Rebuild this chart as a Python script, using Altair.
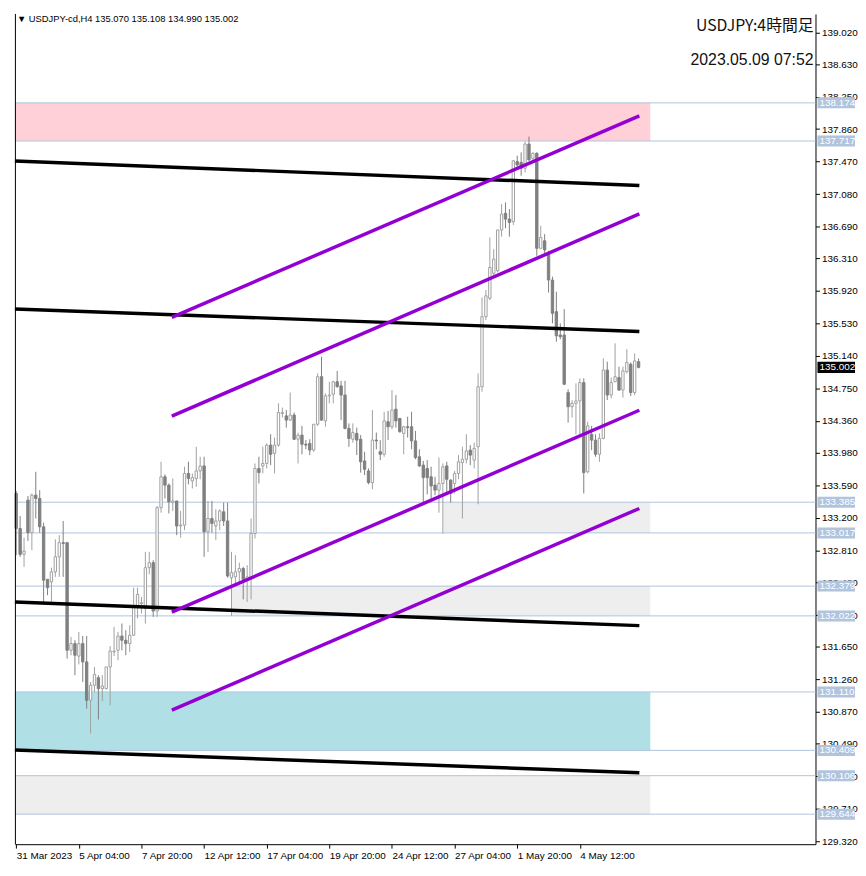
import json
import altair as alt
import pandas as pd

# ---------------- data ----------------
opens = [133.49, 133.07, 132.76, 133.41, 133.02, 133.47, 133.43, 133.09, 132.46, 132.43,
         132.55, 132.73, 132.90, 132.90, 131.61, 131.69, 131.54, 131.69, 131.47, 131.01,
         131.19, 131.28, 131.15, 131.15, 131.41, 131.59, 131.61, 131.78, 131.73, 131.69,
         131.79, 132.13, 132.17, 132.11, 132.60, 132.66, 132.08, 133.32, 133.69, 133.59,
         133.38, 133.40, 133.10, 133.11, 133.73, 133.64, 133.67, 133.76, 133.82, 133.03,
         133.19, 133.10, 133.16, 133.27, 133.16, 132.48, 132.49, 132.55, 132.59, 132.46,
         132.49, 133.01, 133.79, 133.82, 133.85, 134.07, 133.97, 134.07, 134.45, 134.42,
         134.37, 134.43, 134.14, 134.19, 134.08, 134.09, 134.01, 134.32, 134.89, 134.36,
         134.66, 134.68, 134.83, 134.78, 134.67, 134.27, 134.14, 134.21, 134.14, 133.88,
         133.76, 133.62, 134.13, 133.99, 133.96, 134.35, 134.29, 134.50, 134.39, 134.21,
         134.29, 134.29, 134.12, 133.93, 133.83, 133.79, 133.69, 133.59, 133.53, 133.61,
         133.82, 133.65, 133.61, 133.73, 133.86, 133.90, 134.01, 133.89, 134.05, 134.77,
         135.61, 135.83, 136.13, 136.16, 136.65, 136.85, 136.78, 136.75, 137.47, 137.46,
         137.39, 137.68, 137.51, 137.57, 136.43, 136.52, 136.36, 136.05, 135.67, 135.39,
         135.39, 134.70, 134.53, 134.57, 134.60, 134.82, 133.75, 134.20, 134.13, 133.96,
         134.15, 134.97, 134.67, 134.83, 134.88, 134.73, 134.95, 135.04, 134.70, 135.070]
highs = [133.52, 133.22, 132.96, 133.46, 133.49, 133.75, 133.53, 133.14, 132.46, 132.60,
         132.94, 132.99, 133.16, 132.91, 131.77, 131.73, 131.83, 131.78, 131.78, 131.23,
         131.41, 131.31, 131.31, 131.41, 131.66, 131.89, 131.83, 131.93, 131.85, 131.91,
         132.36, 132.36, 132.25, 132.79, 132.79, 132.69, 133.34, 133.87, 133.72, 133.61,
         133.67, 133.40, 133.28, 133.81, 133.87, 133.73, 134.05, 133.93, 133.93, 133.40,
         133.40, 133.30, 133.30, 133.38, 133.38, 132.79, 132.75, 132.66, 132.61, 132.63,
         133.19, 133.85, 133.93, 134.05, 134.09, 134.20, 134.16, 134.57, 134.52, 134.49,
         134.70, 134.46, 134.22, 134.30, 134.13, 134.14, 134.32, 134.93, 135.13, 134.69,
         134.83, 134.84, 134.96, 134.84, 134.84, 134.33, 134.33, 134.28, 134.19, 133.99,
         133.79, 134.49, 134.22, 134.13, 134.47, 134.48, 134.73, 134.67, 134.39, 134.30,
         134.41, 134.47, 134.24, 134.02, 133.88, 133.89, 133.81, 133.69, 133.92, 133.85,
         133.87, 133.66, 133.76, 133.95, 134.05, 134.20, 134.07, 134.10, 134.93, 135.84,
         135.93, 136.56, 136.42, 136.65, 136.96, 136.98, 136.90, 137.48, 137.54, 137.58,
         137.71, 137.77, 137.58, 137.58, 136.70, 136.60, 136.40, 136.09, 135.91, 135.53,
         135.70, 134.74, 134.61, 134.81, 134.87, 134.87, 134.35, 134.30, 134.20, 134.21,
         135.11, 135.07, 134.88, 135.29, 135.01, 135.01, 135.22, 135.06, 135.17, 135.108]
lows = [132.75, 132.73, 132.61, 132.92, 132.81, 133.19, 133.02, 132.19, 132.27, 132.19,
        132.49, 132.49, 132.49, 131.51, 131.55, 131.31, 131.44, 131.23, 130.91, 130.61,
        131.11, 130.78, 131.00, 131.14, 130.95, 131.54, 131.49, 131.61, 131.55, 131.59,
        131.78, 131.99, 132.05, 131.93, 132.52, 132.01, 132.01, 133.26, 133.43, 133.25,
        133.28, 132.99, 132.96, 133.05, 133.60, 133.55, 133.57, 133.66, 132.73, 132.79,
        133.02, 132.93, 133.05, 133.10, 132.48, 132.02, 132.38, 132.40, 132.22, 132.19,
        132.22, 132.95, 133.61, 133.73, 133.79, 133.83, 133.73, 134.05, 134.40, 134.28,
        134.36, 134.13, 133.85, 133.96, 134.02, 133.95, 133.99, 134.30, 134.36, 134.29,
        134.57, 134.57, 134.76, 134.37, 134.26, 134.05, 134.10, 133.95, 133.74, 133.71,
        133.60, 133.54, 134.02, 133.89, 133.93, 134.13, 134.26, 134.28, 134.22, 133.96,
        134.16, 134.02, 133.90, 133.81, 133.36, 133.48, 133.40, 133.47, 133.26, 133.01,
        133.49, 133.38, 133.49, 133.66, 133.19, 133.85, 133.83, 133.79, 133.36, 134.71,
        135.57, 135.81, 136.08, 136.14, 136.57, 136.67, 136.57, 136.71, 137.37, 137.30,
        137.34, 137.48, 137.49, 136.34, 136.42, 136.37, 135.90, 135.53, 135.31, 135.34,
        134.79, 134.34, 134.40, 134.20, 134.20, 133.49, 133.73, 134.01, 133.93, 133.87,
        134.14, 134.61, 134.63, 134.83, 134.72, 134.64, 134.93, 134.66, 134.67, 134.990]
closes = [133.07, 132.76, 132.80, 133.02, 133.47, 133.43, 133.09, 132.45, 132.36, 132.55,
          132.73, 132.90, 132.89, 131.61, 131.69, 131.55, 131.69, 131.47, 131.01, 131.19,
          131.32, 131.15, 131.18, 131.41, 131.60, 131.60, 131.78, 131.73, 131.69, 131.79,
          132.13, 132.28, 132.18, 132.60, 132.66, 132.08, 133.32, 133.69, 133.59, 133.39,
          133.40, 133.10, 133.11, 133.73, 133.67, 133.68, 133.76, 133.82, 133.03, 133.19,
          133.13, 133.16, 133.28, 133.16, 132.50, 132.54, 132.55, 132.59, 132.46, 132.49,
          133.01, 133.79, 133.74, 133.85, 134.07, 133.96, 134.07, 134.46, 134.46, 134.37,
          134.43, 134.14, 134.19, 134.08, 134.07, 134.01, 134.32, 134.89, 134.37, 134.66,
          134.67, 134.83, 134.77, 134.67, 134.27, 134.15, 134.22, 134.13, 133.87, 133.78,
          133.62, 134.13, 134.12, 133.96, 134.36, 134.29, 134.49, 134.36, 134.23, 134.29,
          134.28, 134.12, 133.92, 133.82, 133.68, 133.68, 133.58, 133.53, 133.61, 133.81,
          133.66, 133.49, 133.73, 133.87, 133.90, 134.00, 133.95, 134.03, 134.77, 135.61,
          135.86, 136.20, 136.30, 136.65, 136.84, 136.78, 136.74, 137.48, 137.43, 137.39,
          137.68, 137.49, 137.57, 136.43, 136.56, 136.41, 136.05, 135.65, 135.38, 135.37,
          134.80, 134.53, 134.57, 134.60, 134.82, 133.74, 134.30, 134.13, 133.96, 134.15,
          134.97, 134.67, 134.82, 134.89, 134.73, 134.96, 135.06, 134.70, 135.08, 135.002]

x_tick_index = [0, 16, 32, 48, 64, 80, 96, 112, 128, 144]
x_tick_labels = ["31 Mar 2023", "5 Apr 04:00", "7 Apr 20:00", "12 Apr 12:00", "17 Apr 04:00",
                 "19 Apr 20:00", "24 Apr 12:00", "27 Apr 04:00", "1 May 20:00", "4 May 12:00"]
y_ticks = [139.020, 138.630, 138.250, 137.860, 137.470, 137.080, 136.690, 136.310, 135.920,
           135.530, 135.140, 134.750, 134.360, 133.980, 133.590, 133.200, 132.810, 132.420,
           132.030, 131.650, 131.260, 130.870, 130.490, 130.100, 129.710, 129.320]

levels = [138.174, 137.717, 133.385, 133.017, 132.379, 132.022, 131.110, 130.409, 130.106, 129.644]

zone_start = [-0.33, 109.2, 54.9, -0.33, -0.33]
zone_end = [162.0, 162.0, 162.0, 162.0, 162.0]
zone_low = [137.717, 133.017, 132.022, 130.409, 129.644]
zone_high = [138.174, 133.385, 132.379, 131.110, 130.106]
zone_kind = ["resistance", "range", "range", "demand", "range"]

black_x0 = [-0.33, -0.33, -0.33, -0.33]
black_x1 = [159.2, 159.2, 159.2, 159.2]
black_p0 = [137.477, 135.702, 132.188, 130.413]
black_p1 = [137.183, 135.432, 131.905, 130.142]

purple_x0 = [39.75, 39.75, 39.75, 39.75]
purple_x1 = [159.2, 159.2, 159.2, 159.2]
purple_p0 = [135.602, 134.417, 132.066, 130.891]
purple_p1 = [138.018, 136.842, 134.488, 133.310]

last_price = 135.002
header_text = "\u25bc USDJPY-cd,H4  135.070 135.108 134.990 135.002"
title_text = "USDJPY:4時間足"
stamp_text = "2023.05.09 07:52"

# ---------------- build tables ----------------
cdf = pd.DataFrame({"i": list(range(len(opens))), "o": opens, "h": highs, "l": lows, "c": closes})
cdf["dir"] = ["up" if c >= o else "down" for o, c in zip(opens, closes)]

zdf = pd.DataFrame({"x0": zone_start, "x1": zone_end, "lo": zone_low, "hi": zone_high, "kind": zone_kind})
ldf = pd.DataFrame({"p": levels})


def line_table(x0, x1, p0, p1):
    rows = []
    for k in range(len(x0)):
        rows.append({"id": k, "x": x0[k], "p": p0[k]})
        rows.append({"id": k, "x": x1[k], "p": p1[k]})
    return pd.DataFrame(rows)


bdf = line_table(black_x0, black_x1, black_p0, black_p1)
pdf = line_table(purple_x0, purple_x1, purple_p0, purple_p1)

W, H = 810, 840
FONT = "Liberation Sans"
UP_COL = "#A0A0A0"
DOWN_COL = "#808080"
LEVEL_COL = "#B0C4DE"

xscale = alt.Scale(domain=[-0.33, 204.2], nice=False, zero=False)
yscale = alt.Scale(domain=[129.284, 139.240], nice=False, zero=False)

label_expr = json.dumps(x_tick_labels) + "[indexof(" + json.dumps(x_tick_index) + ", datum.value)]"
xaxis = alt.Axis(values=x_tick_index, labelExpr=label_expr, labelAlign="left", labelBaseline="top",
                 labelPadding=2, tickSize=4, tickColor="black", domainColor="black",
                 labelColor="black", labelFont=FONT, labelFontSize=10, grid=False, title=None,
                 labelFlush=False, labelOverlap=False, labelBound=False, zindex=0)
yaxis = alt.Axis(orient="right", values=y_ticks, format=".3f", labelAlign="left",
                 labelBaseline="middle", labelPadding=2, tickSize=4, tickColor="black",
                 domainColor="black", labelColor="black", labelFont=FONT, labelFontSize=10,
                 grid=False, title=None, labelFlush=False, labelOverlap=False, labelBound=False,
                 zindex=0)


def X(f):
    return alt.X(f, type="quantitative", scale=xscale, axis=xaxis)


def Y(f):
    return alt.Y(f, type="quantitative", scale=yscale, axis=yaxis)


layers = []

zone_colors = {"resistance": "#FFD0D8", "demand": "#B0E0E6", "range": "#EEEEEE"}
for kind, col in zone_colors.items():
    layers.append(alt.Chart(zdf).transform_filter(alt.datum.kind == kind)
                  .mark_rect(color=col).encode(x=X("x0"), x2="x1", y=Y("lo"), y2="hi"))

layers.append(alt.Chart(ldf).mark_rule(color=LEVEL_COL, strokeWidth=1).encode(y=Y("p")))

for d, col in (("up", UP_COL), ("down", DOWN_COL)):
    layers.append(alt.Chart(cdf).transform_filter(alt.datum.dir == d)
                  .mark_rule(color=col, strokeWidth=1)
                  .encode(x=X("i"), y=Y("l"), y2="h"))
    layers.append(alt.Chart(cdf).transform_filter(alt.datum.dir == d)
                  .transform_calculate(xa="datum.i - 0.3", xb="datum.i + 0.3")
                  .mark_rect(fill="white" if d == "up" else DOWN_COL, stroke=col, strokeWidth=1)
                  .encode(x=X("xa"), x2="xb", y=Y("o"), y2="c"))

layers.append(alt.Chart(bdf).mark_line(color="black", strokeWidth=3.5)
              .encode(x=X("x"), y=Y("p"), detail="id:N"))
layers.append(alt.Chart(pdf).mark_line(color="#9400D3", strokeWidth=3.5)
              .encode(x=X("x"), y=Y("p"), detail="id:N"))

one = pd.DataFrame({"k": [0]})
layers.append(alt.Chart(one).mark_rule(color="black", strokeWidth=1)
              .encode(x=alt.value(0.5), y=alt.value(0), y2=alt.value(H)))

# level price tags on the right axis
layers.append(alt.Chart(ldf).transform_calculate(lo="datum.p - 0.066", hi="datum.p + 0.066")
              .mark_rect(color=LEVEL_COL)
              .encode(x=alt.value(W + 2), x2=alt.value(W + 40), y=Y("lo"), y2="hi"))
layers.append(alt.Chart(ldf).mark_text(color="white", align="left", baseline="middle",
                                       font=FONT, fontSize=10)
              .encode(x=alt.value(W + 4), y=Y("p"), text=alt.Text("p:Q", format=".3f")))

cur = pd.DataFrame({"p": [last_price]})
layers.append(alt.Chart(cur).transform_calculate(lo="datum.p - 0.066", hi="datum.p + 0.066")
              .mark_rect(color="black")
              .encode(x=alt.value(W + 2), x2=alt.value(W + 40), y=Y("lo"), y2="hi"))
layers.append(alt.Chart(cur).mark_text(color="white", align="left", baseline="middle",
                                       font=FONT, fontSize=10)
              .encode(x=alt.value(W + 4), y=Y("p"), text=alt.Text("p:Q", format=".3f")))

# texts
layers.append(alt.Chart(pd.DataFrame({"t": [header_text]}))
              .mark_text(align="left", baseline="middle", font=FONT, fontSize=9.5, color="black")
              .encode(x=alt.value(2), y=alt.value(5), text="t:N"))
layers.append(alt.Chart(pd.DataFrame({"t": [title_text]}))
              .mark_text(align="right", baseline="middle", font="Noto Sans CJK JP", fontSize=16,
                         color="#111111")
              .encode(x=alt.value(W - 2), y=alt.value(12), text="t:N"))
layers.append(alt.Chart(pd.DataFrame({"t": [stamp_text]}))
              .mark_text(align="right", baseline="middle", font=FONT, fontSize=16, color="#111111")
              .encode(x=alt.value(W - 2), y=alt.value(47), text="t:N"))

chart = alt.layer(*layers).properties(width=W, height=H, padding=0, background="white") \
    .configure_view(stroke=None)

chart.save("out.html", embed_options={"renderer": "svg", "actions": False})
